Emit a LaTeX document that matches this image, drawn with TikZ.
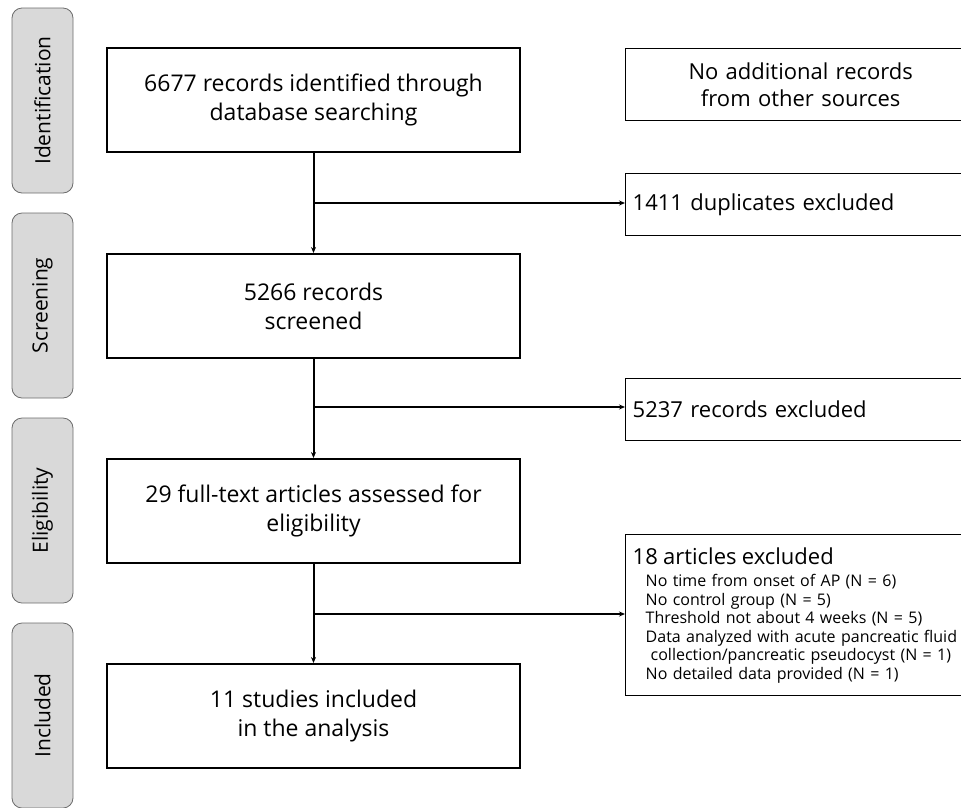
\documentclass[tikz,border=0pt]{standalone}
\usepackage{fontspec}
\setmainfont{Open Sans}
\usetikzlibrary{arrows.meta}
\begin{document}
\begin{tikzpicture}[x=1pt,y=-1pt,
  mainbox/.style={draw=black, line width=2pt, minimum width=413pt, minimum height=104pt,
    align=center, font=\fontsize{23}{29}\selectfont, inner sep=0pt},
  sidebox/.style={draw=black, line width=1.4pt, minimum width=350pt, text width=336pt,
    inner xsep=7pt, inner ysep=0pt, font=\fontsize{22}{27}\selectfont, anchor=north west},
  phase/.style={draw=gray!85!black, fill=gray!30, rounded corners=10pt, minimum width=185pt,
    minimum height=61pt, inner sep=0pt, line width=0.8pt, rotate=90,
    font=\fontsize{21}{25}\selectfont},
  arr/.style={line width=1.5pt, -{Stealth[length=6pt,width=5pt]}},
  vline/.style={line width=2pt, -{Stealth[length=6pt,width=5pt]}},
]
\useasboundingbox (0,0) rectangle (961,807);

% phase labels
\node[phase] (pid) at (42.5,100.5) {Identification};
\node[phase] (psc) at (42.5,305.5) {Screening};
\node[phase] (pel) at (42.5,510.5) {Eligibility};
\node[phase] (pin) at (42.5,715.5) {Included};

% main boxes
\node[mainbox] (b1) at (313.5,100) {6677 records identified through\\database searching};
\node[mainbox] (b2) at (313.5,306) {5266 records\\screened};
\node[mainbox] (b3) at (313.5,511) {29 full-text articles assessed for\\eligibility};
\node[mainbox] (b4) at (313.5,716) {11 studies included\\in the analysis};

% side boxes
\node[sidebox, minimum height=72pt, align=center] (other) at (625,48)
  {No additional records\\from other sources};
\node[sidebox, minimum height=62pt, align=left] (dup) at (625,173) {1411 duplicates excluded};
\node[sidebox, minimum height=62pt, align=left] (ex1) at (625,378) {5237 records excluded};
\node[sidebox, minimum height=161pt, align=left, font=\fontsize{16}{18.5}\selectfont] (ex2) at (625,534)
  {{\fontsize{22}{24}\selectfont 18 articles excluded}\\[4pt]
   \hspace*{13pt}No time from onset of AP (N = 6)\\
   \hspace*{13pt}No control group (N = 5)\\
   \hspace*{13pt}Threshold not about 4 weeks (N = 5)\\
   \hspace*{13pt}Data analyzed with acute pancreatic fluid\\
   \hspace*{18pt}collection/pancreatic pseudocyst (N = 1)\\
   \hspace*{13pt}No detailed data provided (N = 1)};

% junctions
\coordinate (j1) at (313.5,203);
\coordinate (j2) at (313.5,407);
\coordinate (j3) at (313.5,614);

% connectors
\draw[vline] (b1.south) -- (b2.north);
\draw[vline] (b2.south) -- (b3.north);
\draw[vline] (b3.south) -- (b4.north);
\draw[arr] (j1) -- (j1 -| dup.west);
\draw[arr] (j2) -- (j2 -| ex1.west);
\draw[arr] (j3) -- (j3 -| ex2.west);
\end{tikzpicture}
\end{document}
